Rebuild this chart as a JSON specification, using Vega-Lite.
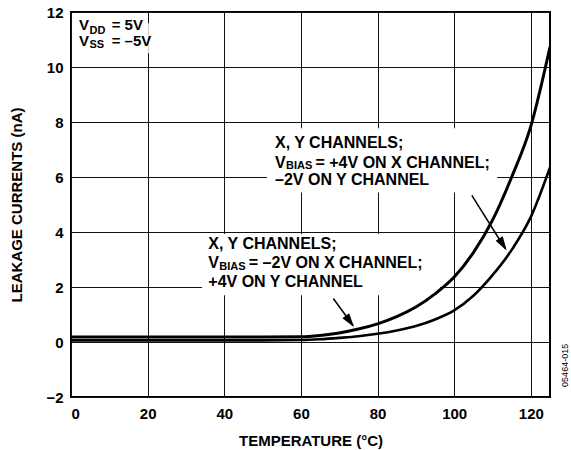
{
  "$schema": "https://vega.github.io/schema/vega-lite/v6.json",
  "width": 479,
  "height": 385,
  "autosize": {"type": "none"},
  "padding": {"left": 71, "top": 12, "right": 21, "bottom": 53},
  "background": "white",
  "config": {
    "font": "Liberation Sans",
    "view": {"stroke": "black", "strokeWidth": 2},
    "axis": {
      "grid": true, "gridColor": "#111111", "gridWidth": 1, "gridOpacity": 1,
      "ticks": false, "domain": false,
      "labelFont": "Liberation Sans", "labelFontSize": 15, "labelFontWeight": "bold", "labelColor": "black",
      "titleFont": "Liberation Sans", "titleFontSize": 15, "titleFontWeight": "bold", "titleColor": "black"
    }
  },
  "datasets": {
    "curves": [
      {"series": "-2V on X", "t": 0, "i": 0.18}, {"series": "-2V on X", "t": 10, "i": 0.18}, {"series": "-2V on X", "t": 20, "i": 0.18},
      {"series": "-2V on X", "t": 30, "i": 0.18}, {"series": "-2V on X", "t": 40, "i": 0.18}, {"series": "-2V on X", "t": 50, "i": 0.18},
      {"series": "-2V on X", "t": 60, "i": 0.19}, {"series": "-2V on X", "t": 65, "i": 0.24}, {"series": "-2V on X", "t": 70, "i": 0.33},
      {"series": "-2V on X", "t": 75, "i": 0.47}, {"series": "-2V on X", "t": 80, "i": 0.66}, {"series": "-2V on X", "t": 85, "i": 0.92},
      {"series": "-2V on X", "t": 90, "i": 1.27}, {"series": "-2V on X", "t": 95, "i": 1.75}, {"series": "-2V on X", "t": 100, "i": 2.36},
      {"series": "-2V on X", "t": 105, "i": 3.25}, {"series": "-2V on X", "t": 110, "i": 4.43}, {"series": "-2V on X", "t": 115, "i": 6.0},
      {"series": "-2V on X", "t": 120, "i": 7.85}, {"series": "-2V on X", "t": 125, "i": 10.73},
      {"series": "+4V on X", "t": 0, "i": 0.06}, {"series": "+4V on X", "t": 10, "i": 0.06}, {"series": "+4V on X", "t": 20, "i": 0.06},
      {"series": "+4V on X", "t": 30, "i": 0.06}, {"series": "+4V on X", "t": 40, "i": 0.06}, {"series": "+4V on X", "t": 50, "i": 0.06},
      {"series": "+4V on X", "t": 60, "i": 0.07}, {"series": "+4V on X", "t": 65, "i": 0.1}, {"series": "+4V on X", "t": 70, "i": 0.15},
      {"series": "+4V on X", "t": 75, "i": 0.21}, {"series": "+4V on X", "t": 80, "i": 0.3}, {"series": "+4V on X", "t": 85, "i": 0.42},
      {"series": "+4V on X", "t": 90, "i": 0.58}, {"series": "+4V on X", "t": 95, "i": 0.82}, {"series": "+4V on X", "t": 100, "i": 1.15},
      {"series": "+4V on X", "t": 105, "i": 1.68}, {"series": "+4V on X", "t": 110, "i": 2.43}, {"series": "+4V on X", "t": 115, "i": 3.35},
      {"series": "+4V on X", "t": 120, "i": 4.55}, {"series": "+4V on X", "t": 125, "i": 6.35}
    ],
    "boxes": [
      {"x": 1.0, "x2": 20.3, "y": 11.59, "y2": 10.5},
      {"x": 51.15, "x2": 111.2, "y": 7.77, "y2": 5.44},
      {"x": 34.19, "x2": 96.3, "y": 3.93, "y2": 1.7}
    ],
    "labels": [
      {"x": 53.24, "y": 7.244, "text": "X, Y CHANNELS;"},
      {"x": 53.24, "y": 6.516, "text": "V"},
      {"x": 63.8, "y": 6.516, "text": "= +4V ON X CHANNEL;"},
      {"x": 53.24, "y": 5.88, "text": "–2V ON Y CHANNEL"},
      {"x": 35.83, "y": 3.553, "text": "X, Y CHANNELS;"},
      {"x": 35.83, "y": 2.862, "text": "V"},
      {"x": 46.4, "y": 2.862, "text": "= –2V ON X CHANNEL;"},
      {"x": 35.83, "y": 2.182, "text": "+4V ON Y CHANNEL"}
    ],
    "subs": [
      {"x": 56.1, "y": 6.39, "text": "BIAS"},
      {"x": 38.7, "y": 2.716, "text": "BIAS"},
      {"x": 4.83, "y": 11.3, "text": "DD"},
      {"x": 4.83, "y": 10.79, "text": "SS"}
    ],
    "vdd": [
      {"x": 2.09, "y": 11.52, "text": "V"},
      {"x": 10.62, "y": 11.52, "text": "= 5V"},
      {"x": 2.09, "y": 10.94, "text": "V"},
      {"x": 10.62, "y": 10.94, "text": "= –5V"}
    ],
    "arrows": [
      {"x": 104.6, "y": 5.33, "x2": 113.3, "y2": 3.4},
      {"x": 68.45, "y": 1.58, "x2": 73.6, "y2": 0.6}
    ],
    "headA": [{"x": 113.7, "y": 3.33}],
    "headB": [{"x": 73.85, "y": 0.545}],
    "code": [{"x": 128.9, "y": -0.85, "text": "05464-015"}]
  },
  "layer": [
    {
      "data": {"name": "boxes"},
      "mark": {"type": "rect", "fill": "white", "stroke": null},
      "encoding": {
        "x": {"field": "x", "type": "quantitative", "scale": {"domain": [0, 125], "nice": false, "zero": false},
              "axis": {"title": "TEMPERATURE (°C)", "values": [0, 20, 40, 60, 80, 100, 120], "labelPadding": 9, "titlePadding": 12}},
        "x2": {"field": "x2"},
        "y": {"field": "y", "type": "quantitative", "scale": {"domain": [-2, 12], "nice": false, "zero": false},
              "axis": {"title": "LEAKAGE CURRENTS (nA)", "values": [-2, 0, 2, 4, 6, 8, 10, 12], "labelPadding": 8, "titlePadding": 21}},
        "y2": {"field": "y2"}
      }
    },
    {
      "data": {"name": "curves"},
      "transform": [{"filter": "datum.series === '+4V on X'"}],
      "mark": {"type": "line", "color": "black", "strokeWidth": 2.6, "interpolate": "monotone", "clip": true},
      "encoding": {
        "x": {"field": "t", "type": "quantitative"},
        "y": {"field": "i", "type": "quantitative"}
      }
    },
    {
      "data": {"name": "curves"},
      "transform": [{"filter": "datum.series === '-2V on X'"}],
      "mark": {"type": "line", "color": "black", "strokeWidth": 3, "interpolate": "monotone", "clip": true},
      "encoding": {
        "x": {"field": "t", "type": "quantitative"},
        "y": {"field": "i", "type": "quantitative"}
      }
    },
    {
      "data": {"name": "labels"},
      "mark": {"type": "text", "align": "left", "baseline": "middle", "fontSize": 16, "fontWeight": "bold", "color": "black"},
      "encoding": {
        "x": {"field": "x", "type": "quantitative"},
        "y": {"field": "y", "type": "quantitative"},
        "text": {"field": "text"}
      }
    },
    {
      "data": {"name": "subs"},
      "mark": {"type": "text", "align": "left", "baseline": "middle", "fontSize": 11, "fontWeight": "bold", "color": "black"},
      "encoding": {
        "x": {"field": "x", "type": "quantitative"},
        "y": {"field": "y", "type": "quantitative"},
        "text": {"field": "text"}
      }
    },
    {
      "data": {"name": "vdd"},
      "mark": {"type": "text", "align": "left", "baseline": "middle", "fontSize": 15, "fontWeight": "bold", "color": "black"},
      "encoding": {
        "x": {"field": "x", "type": "quantitative"},
        "y": {"field": "y", "type": "quantitative"},
        "text": {"field": "text"}
      }
    },
    {
      "data": {"name": "arrows"},
      "mark": {"type": "rule", "color": "black", "strokeWidth": 1.5},
      "encoding": {
        "x": {"field": "x", "type": "quantitative"},
        "y": {"field": "y", "type": "quantitative"},
        "x2": {"field": "x2"},
        "y2": {"field": "y2"}
      }
    },
    {
      "data": {"name": "headA"},
      "mark": {"type": "point", "shape": "M0,0L-0.3,1L0.3,1Z", "size": 784, "angle": 147.5, "filled": true, "color": "black", "opacity": 1, "strokeWidth": 0},
      "encoding": {
        "x": {"field": "x", "type": "quantitative"},
        "y": {"field": "y", "type": "quantitative"}
      }
    },
    {
      "data": {"name": "headB"},
      "mark": {"type": "point", "shape": "M0,0L-0.3,1L0.3,1Z", "size": 784, "angle": 144, "filled": true, "color": "black", "opacity": 1, "strokeWidth": 0},
      "encoding": {
        "x": {"field": "x", "type": "quantitative"},
        "y": {"field": "y", "type": "quantitative"}
      }
    },
    {
      "data": {"name": "code"},
      "mark": {"type": "text", "align": "center", "baseline": "middle", "fontSize": 9, "angle": 270, "color": "black"},
      "encoding": {
        "x": {"field": "x", "type": "quantitative"},
        "y": {"field": "y", "type": "quantitative"},
        "text": {"field": "text"}
      }
    }
  ]
}
